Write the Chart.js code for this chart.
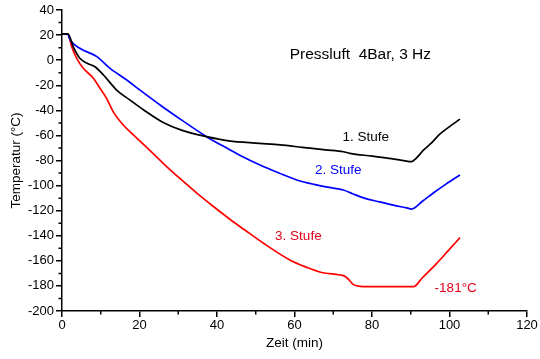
<!DOCTYPE html>
<html>
<head>
<meta charset="utf-8">
<script src="https://cdn.jsdelivr.net/npm/chart.js@4.4.1/dist/chart.umd.min.js"></script>
<style>
html,body{margin:0;padding:0;background:#fff;}
#wrap{width:540px;height:359px;}
</style>
</head>
<body>
<div id="wrap"><canvas id="c" width="540" height="359"></canvas></div>
<script>
// ---- data ----
const stufe1Time = [0, 1.5, 3, 4.6, 6.5, 8.5, 10.7, 14.1, 17.5, 21, 26, 31, 37.3, 43, 51, 56.3, 62, 68, 72.6, 74.3, 80, 85, 88.5, 90.2, 91.5, 93.2, 95.5, 97.5, 100, 102.7];
const stufe1Temp = [21, 21, 10, 1.5, -2.5, -5.2, -11.8, -23.8, -31.7, -39.5, -49.5, -56, -61, -64.3, -66.3, -67.6, -69.5, -71.5, -73, -74.3, -76.5, -78.5, -80.3, -80.9, -78, -72, -65.5, -59, -53, -47];

const stufe2Time = [0, 1.5, 2.1, 4.6, 9, 12.4, 16.7, 20.1, 25.3, 31, 37.3, 43.4, 46, 51.1, 56, 60.6, 65, 70, 72.6, 75, 78, 82, 86, 89, 90.2, 93, 96, 99, 102.7];
const stufe2Temp = [21, 20.5, 16.1, 9.5, 2.8, -6.5, -15.8, -23.8, -35.7, -48, -61, -71.6, -76, -83.6, -90, -95.5, -99, -102, -103.5, -106.5, -110, -113, -116, -117.8, -118.7, -112.5, -105.5, -99, -91.5];

const stufe3Time = [0, 1.5, 2.5, 3.8, 5.5, 8.1, 9.8, 11.5, 13.2, 15.8, 18, 22, 26.1, 30.5, 34.8, 39, 43.4, 47, 52, 58.8, 63, 67, 71.7, 73, 74.3, 75.2, 77, 78.6, 85, 90.7, 93, 96.7, 99.5, 102.7];
const stufe3Temp = [21, 21, 10.8, 1.5, -6.5, -14.4, -22.4, -30.4, -41, -51.7, -58.3, -70, -82.2, -94.5, -106, -116.5, -127, -135, -146, -159.3, -165, -169.3, -171.3, -172.3, -176, -179, -180.3, -180.6, -180.6, -180.6, -173.5, -162, -152.5, -141.5];

const xTicks = [0, 20, 40, 60, 80, 100, 120];
const yTicks = [-200, -180, -160, -140, -120, -100, -80, -60, -40, -20, 0, 20, 40];

const seriesNames = ['1. Stufe', '2. Stufe', '3. Stufe'];
const annotations = [
  {text: 'Pressluft  4Bar, 3 Hz', x: 77, y: 4.5, color: '#000', size: 15.5},
  {text: '1. Stufe', x: 78.4, y: -61.5, color: '#000', size: 13.5},
  {text: '2. Stufe', x: 71.3, y: -87.5, color: '#0000ff', size: 13.5},
  {text: '3. Stufe', x: 61, y: -140.5, color: '#e0001a', size: 13.5},
  {text: '-181°C', x: 101.6, y: -181.5, color: '#e0001a', size: 13.5}
];

const FONT = "'Liberation Sans', Arial, sans-serif";

function pts(xs, ys) { return xs.map((x, i) => ({x: x, y: ys[i]})); }

const minorTicks = {
  id: 'minorTicks',
  afterDraw(chart) {
    const ctx = chart.ctx;
    const xs = chart.scales.x, ys = chart.scales.y;
    ctx.save();
    ctx.strokeStyle = '#000';
    ctx.lineWidth = 1.5;
    ctx.beginPath();
    for (let v = xs.min; v <= xs.max; v += 10) {
      if (v % 20 === 0) continue;
      const px = xs.getPixelForValue(v);
      ctx.moveTo(px, ys.bottom);
      ctx.lineTo(px, ys.bottom + 3.5);
    }
    for (let v = ys.min; v <= ys.max; v += 10) {
      if (v % 20 === 0) continue;
      const py = ys.getPixelForValue(v);
      ctx.moveTo(xs.left, py);
      ctx.lineTo(xs.left - 3.5, py);
    }
    ctx.stroke();
    // text annotations
    ctx.textAlign = 'center';
    ctx.textBaseline = 'middle';
    annotations.forEach(a => {
      ctx.fillStyle = a.color;
      ctx.font = a.size + 'px ' + FONT;
      ctx.fillText(a.text, xs.getPixelForValue(a.x), ys.getPixelForValue(a.y));
    });
    ctx.restore();
  }
};

new Chart(document.getElementById('c'), {
  type: 'scatter',
  data: {
    datasets: [
      {label: seriesNames[0], data: pts(stufe1Time, stufe1Temp), borderColor: '#000000', showLine: true, pointRadius: 0, borderWidth: 1.7, tension: 0.4, cubicInterpolationMode: 'monotone'},
      {label: seriesNames[1], data: pts(stufe2Time, stufe2Temp), borderColor: '#0000ff', showLine: true, pointRadius: 0, borderWidth: 1.7, tension: 0.4, cubicInterpolationMode: 'monotone'},
      {label: seriesNames[2], data: pts(stufe3Time, stufe3Temp), borderColor: '#ff0000', showLine: true, pointRadius: 0, borderWidth: 1.7, tension: 0.4, cubicInterpolationMode: 'monotone'}
    ]
  },
  options: {
    responsive: false,
    animation: false,
    layout: {padding: {top: 10, right: 13, left: 0, bottom: 0}},
    plugins: {legend: {display: false}, tooltip: {enabled: false}},
    scales: {
      x: {
        type: 'linear', min: 0, max: 120,
        afterFit(s) { s.height = 48; },
        afterBuildTicks(s) { s.ticks = xTicks.map(v => ({value: v})); },
        ticks: {color: '#000', font: {family: FONT, size: 13}, padding: 1, autoSkip: false, maxRotation: 0},
        grid: {drawOnChartArea: false, drawTicks: true, tickLength: 6, color: '#000', lineWidth: 1.5},
        border: {display: true, color: '#000', width: 1.5},
        title: {display: true, text: 'Zeit (min)', color: '#000', font: {family: FONT, size: 13.5}, padding: {top: 0, bottom: 8}}
      },
      y: {
        type: 'linear', min: -200, max: 40,
        afterFit(s) { s.width = 62; },
        afterBuildTicks(s) { s.ticks = yTicks.map(v => ({value: v})); },
        ticks: {color: '#000', font: {family: FONT, size: 13}, padding: 2, autoSkip: false},
        grid: {drawOnChartArea: false, drawTicks: true, tickLength: 6, color: '#000', lineWidth: 1.5},
        border: {display: true, color: '#000', width: 1.5},
        title: {display: true, text: 'Temperatur (°C)', color: '#000', font: {family: FONT, size: 13.5}, padding: {top: 8, bottom: 0}}
      }
    }
  },
  plugins: [minorTicks]
});
</script>
</body>
</html>
